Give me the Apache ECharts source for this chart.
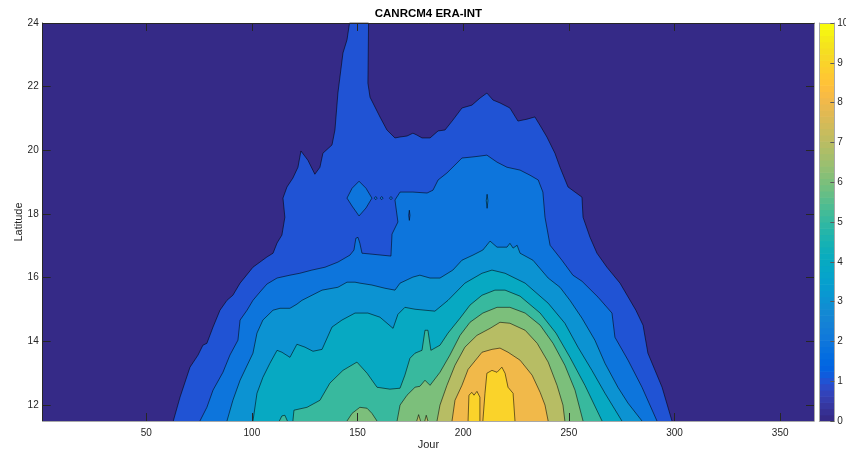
<!DOCTYPE html>
<html>
<head>
<meta charset="utf-8">
<script src="https://cdn.jsdelivr.net/npm/echarts@6/dist/echarts.min.js"></script>
<style>
  html, body { margin: 0; padding: 0; background: #ffffff; }
  #chart { width: 846px; height: 454px; }
</style>
</head>
<body>
<div id="chart"></div>
<script>
// Filled contour boundaries, as [day of year, latitude] pairs.
// Each level polygon encloses the area where the value is >= that level;
// open outlines start and end on the lower edge (latitude 11.5).
const level1 = [[62.8,11.5],[66.0,12.25],[70.7,13.19],[74.5,13.57],[76.8,13.88],[78.7,13.94],[81.6,14.45],[84.9,14.98],[88.2,15.29],[91.0,15.45],[94.4,15.83],[100.5,16.33],[107.1,16.65],[110.0,16.77],[111.9,17.09],[114.2,17.34],[115.6,17.90],[114.7,18.50],[116.6,18.85],[119.4,19.13],[121.8,19.47],[123.2,19.98],[126.5,19.69],[129.8,19.25],[132.2,19.47],[133.6,19.91],[137.9,20.17],[139.3,20.64],[140.7,21.80],[143.1,23.06],[145.0,23.47],[146.2,24],[155.2,24],[154.9,22.11],[155.9,21.67],[160.6,21.05],[163.9,20.64],[167.7,20.39],[170.1,20.42],[173.4,20.45],[176.2,20.54],[178.1,20.48],[180.5,20.39],[184.3,20.39],[188.1,20.61],[191.4,20.64],[195.1,20.95],[199.4,21.33],[204.1,21.42],[207.9,21.64],[211.2,21.80],[214.1,21.58],[217.4,21.49],[222.1,21.33],[225.9,20.92],[230.2,20.98],[233.9,21.05],[236.3,20.79],[239.6,20.42],[243.4,19.91],[245.8,19.47],[249.6,18.85],[256.2,18.53],[256.7,17.90],[260.0,17.27],[263.3,16.77],[268.0,16.33],[274.2,15.83],[281.7,14.98],[285.1,14.51],[287.4,13.63],[294.1,12.56],[298.8,11.5]];
const level1Hole = [[174.5,18.12],[174.8,17.96],[174.5,17.80],[174.2,17.96]];

const level2 = [[75.4,11.5],[78.7,11.93],[81.6,12.47],[86.3,13.03],[89.6,13.57],[93.4,14.04],[94.4,14.67],[97.7,14.98],[100.5,15.29],[103.8,15.55],[107.1,15.80],[111.9,15.99],[118.0,16.08],[122.7,16.14],[128.4,16.24],[134.6,16.33],[140.7,16.49],[146.4,16.71],[148.3,16.87],[149.2,17.24],[150.2,17.27],[151.1,17.08],[152.1,16.77],[156.8,16.74],[165.8,16.68],[166.3,17.37],[169.1,17.75],[167.7,18.44],[170.1,18.69],[176.2,18.69],[182.9,18.66],[185.7,18.75],[188.1,19.07],[192.3,19.29],[196.1,19.54],[199.4,19.76],[204.1,19.79],[207.9,19.82],[211.2,19.85],[216.0,19.63],[220.7,19.47],[226.9,19.38],[231.6,19.22],[235.5,19.07],[237.7,18.69],[238.7,17.90],[241.1,17.02],[246.7,16.55],[251.9,16.08],[256.2,15.89],[263.8,15.39],[270.4,14.89],[271.8,14.13],[278.0,13.41],[284.6,12.56],[291.7,11.5]];
const level2Island = [[150.7,19.03],[154.0,18.81],[156.8,18.50],[154.0,18.19],[150.7,17.94],[147.4,18.25],[145.0,18.50],[147.4,18.81]];
const level2DotA = [[157.9,18.50],[158.6,18.55],[159.3,18.50],[158.6,18.45]];
const level2DotB = [[160.7,18.50],[161.4,18.55],[162.1,18.50],[161.4,18.45]];
const level2DotC = [[165.1,18.50],[165.8,18.55],[166.5,18.50],[165.8,18.45]];

const level3 = [[88.2,11.5],[91.0,12.15],[94.4,12.78],[100.5,13.63],[102.4,14.26],[105.2,14.67],[110.0,14.98],[113.3,15.04],[118.0,15.04],[121.3,15.17],[123.7,15.29],[133.2,15.61],[140.7,15.70],[145.0,15.86],[148.8,15.86],[151.1,15.83],[156.8,15.77],[162.9,15.67],[167.7,15.61],[170.1,15.83],[176.2,16.02],[179.5,16.08],[184.3,15.99],[189.0,15.99],[195.1,16.24],[199.4,16.55],[204.6,16.71],[209.3,16.87],[212.7,17.15],[216.0,16.96],[220.7,16.96],[222.1,17.08],[223.6,16.93],[225.5,17.02],[226.9,16.77],[233.0,16.55],[240.2,15.99],[245.8,15.70],[250.5,15.29],[256.2,14.73],[262.3,14.04],[267.1,13.31],[273.2,12.56],[278.0,12.06],[284.6,11.5]];
const level3Island = [[211.3,18.62],[211.7,18.42],[211.3,18.18],[210.9,18.42]];

const level4 = [[100.5,11.5],[102.4,12.37],[105.2,12.87],[108.5,13.31],[111.9,13.72],[114.2,13.66],[118.0,13.50],[121.3,13.91],[125.1,13.82],[128.9,13.69],[133.2,13.75],[137.9,14.45],[142.6,14.67],[148.8,14.89],[154.9,14.89],[160.6,14.76],[166.8,14.41],[169.1,14.85],[172.4,15.07],[177.2,15.01],[186.6,14.95],[192.8,15.29],[200.8,15.83],[208.9,16.14],[213.6,16.24],[219.8,16.14],[229.3,15.83],[240.2,15.20],[248.1,14.57],[254.3,13.82],[260.9,13.09],[267.1,12.37],[275.1,11.5]];

const level5 = [[119.4,11.5],[119.9,11.84],[126.1,11.93],[132.2,12.15],[136.9,12.69],[143.1,13.09],[149.7,13.35],[154.5,13.00],[159.2,12.56],[165.3,12.50],[170.1,12.53],[172.4,12.94],[174.8,13.47],[177.2,13.63],[180.5,13.72],[181.9,14.35],[183.3,14.35],[184.7,13.72],[189.0,13.88],[192.8,14.26],[198.5,14.73],[203.2,15.14],[208.9,15.45],[215.0,15.61],[219.8,15.61],[226.9,15.42],[236.4,14.89],[243.9,14.26],[250.5,13.50],[257.6,12.62],[265.7,11.5]];
const level5Bump = [[113.0,11.5],[114.2,11.66],[115.6,11.68],[116.8,11.5]];

const level6 = [[168.7,11.5],[170.1,12.00],[173.4,12.31],[177.2,12.56],[179.5,12.59],[181.9,12.78],[184.3,12.62],[189.0,13.03],[193.7,13.57],[198.5,14.19],[203.2,14.60],[209.3,14.89],[216.0,15.07],[222.1,15.07],[229.3,14.89],[236.4,14.51],[242.5,13.94],[248.1,13.25],[252.9,12.47],[256.7,11.5]];
const level6Bump = [[145.0,11.5],[147.4,11.74],[151.1,11.93],[154.5,11.90],[156.8,11.74],[159.2,11.5]];

const level7 = [[187.6,11.5],[189.0,12.00],[192.3,12.62],[196.1,13.25],[200.8,13.82],[206.5,14.19],[212.7,14.41],[217.4,14.60],[222.1,14.57],[229.3,14.35],[235.0,13.94],[240.2,13.35],[244.4,12.62],[247.2,12.00],[248.1,11.5]];
const level7BumpA = [[178.0,11.5],[178.9,11.70],[179.8,11.5]];
const level7BumpB = [[181.8,11.5],[182.5,11.68],[183.3,11.5]];

const level8 = [[194.7,11.5],[196.1,12.15],[199.4,12.62],[202.3,13.12],[208.9,13.66],[213.6,13.75],[217.4,13.79],[221.2,13.66],[226.9,13.41],[232.6,12.94],[236.4,12.40],[238.7,12.00],[240.2,11.5]];

const level9 = [[209.3,11.5],[210.3,12.37],[211.2,13.00],[213.6,13.09],[216.0,13.03],[218.3,13.19],[219.8,13.00],[221.2,12.56],[223.6,12.37],[224.5,11.5]];
const level9Small = [[202.3,11.5],[202.7,12.31],[204.1,12.40],[205.1,12.31],[206.5,12.43],[207.9,12.25],[207.9,11.5]];

// Axis ticks
const dayTicks = [50, 100, 150, 200, 250, 300, 350];
const latTicks = [12, 14, 16, 18, 20, 22, 24];
const colorbarTicks = [0, 1, 2, 3, 4, 5, 6, 7, 8, 9, 10];

// parula, 64 entries
const parula = [
  [0.2081,0.1663,0.5292],[0.2116,0.1898,0.5777],[0.2123,0.2138,0.6270],[0.2081,0.2386,0.6771],
  [0.1959,0.2645,0.7279],[0.1707,0.2919,0.7792],[0.1253,0.3242,0.8303],[0.0591,0.3598,0.8683],
  [0.0117,0.3875,0.8820],[0.0060,0.4086,0.8828],[0.0165,0.4266,0.8786],[0.0329,0.4430,0.8720],
  [0.0498,0.4586,0.8641],[0.0629,0.4737,0.8554],[0.0723,0.4887,0.8467],[0.0779,0.5040,0.8384],
  [0.0793,0.5200,0.8312],[0.0749,0.5375,0.8263],[0.0641,0.5570,0.8240],[0.0488,0.5772,0.8228],
  [0.0343,0.5966,0.8199],[0.0265,0.6137,0.8135],[0.0239,0.6287,0.8038],[0.0231,0.6418,0.7913],
  [0.0228,0.6535,0.7768],[0.0267,0.6642,0.7607],[0.0384,0.6743,0.7436],[0.0590,0.6838,0.7254],
  [0.0843,0.6928,0.7062],[0.1133,0.7015,0.6859],[0.1453,0.7098,0.6646],[0.1801,0.7177,0.6424],
  [0.2178,0.7250,0.6193],[0.2586,0.7317,0.5954],[0.3022,0.7376,0.5712],[0.3482,0.7424,0.5473],
  [0.3953,0.7459,0.5244],[0.4420,0.7481,0.5033],[0.4871,0.7491,0.4840],[0.5300,0.7491,0.4661],
  [0.5709,0.7485,0.4494],[0.6099,0.7473,0.4337],[0.6473,0.7456,0.4188],[0.6834,0.7435,0.4044],
  [0.7184,0.7411,0.3905],[0.7525,0.7384,0.3768],[0.7858,0.7356,0.3633],[0.8185,0.7327,0.3498],
  [0.8507,0.7299,0.3360],[0.8824,0.7274,0.3217],[0.9139,0.7258,0.3063],[0.9450,0.7261,0.2886],
  [0.9739,0.7314,0.2666],[0.9938,0.7455,0.2403],[0.9990,0.7653,0.2164],[0.9955,0.7861,0.1967],
  [0.9880,0.8066,0.1794],[0.9789,0.8271,0.1633],[0.9697,0.8481,0.1475],[0.9626,0.8705,0.1309],
  [0.9589,0.8949,0.1132],[0.9598,0.9218,0.0948],[0.9661,0.9514,0.0755],[0.9763,0.9831,0.0538]
];
const rgb = c => 'rgb(' + c.map(v => Math.round(v * 255)).join(',') + ')';
const CMIN = 0, CMAX = 10;
const levelColor = v => rgb(parula[Math.min(63, Math.floor((v - CMIN) / (CMAX - CMIN) * 64))]);

const FONT = '"Liberation Sans", Arial, Helvetica, sans-serif';
const INK = '#262626';
const EDGE = 'rgba(0,0,0,0.78)';

// Paint order: lower levels first, then higher ones on top.
const layers = [
  { level: 1, rings: [{ pts: level1 }] },
  { level: 2, rings: [{ pts: level2 }, { pts: level2Island, closed: true },
                      { pts: level2DotA, closed: true }, { pts: level2DotB, closed: true },
                      { pts: level2DotC, closed: true }] },
  { level: 1, rings: [{ pts: level1Hole, closed: true }] },
  { level: 3, rings: [{ pts: level3 }, { pts: level3Island, closed: true }] },
  { level: 4, rings: [{ pts: level4 }] },
  { level: 5, rings: [{ pts: level5 }, { pts: level5Bump }] },
  { level: 6, rings: [{ pts: level6 }, { pts: level6Bump }] },
  { level: 7, rings: [{ pts: level7 }, { pts: level7BumpA }, { pts: level7BumpB }] },
  { level: 8, rings: [{ pts: level8 }] },
  { level: 9, rings: [{ pts: level9 }, { pts: level9Small }] }
];

function contourSeries(layer, order) {
  const data = [];
  layer.rings.forEach((r, ri) => {
    r.pts.forEach(p => data.push([p[0], p[1], ri, r.closed ? 1 : 0]));
  });
  const fill = levelColor(layer.level);
  return {
    type: 'custom',
    xAxisIndex: 0,
    yAxisIndex: 0,
    z: 3 + order,
    silent: true,
    animation: false,
    encode: { x: 0, y: 1 },
    data: data,
    renderItem: function (params, api) {
      if (params.dataIndex !== 0) return null;
      const n = params.dataInsideLength;
      const rings = [];
      for (let i = 0; i < n; i++) {
        const ri = api.value(2, i);
        if (!rings[ri]) rings[ri] = { closed: api.value(3, i) === 1, pts: [] };
        rings[ri].pts.push(api.coord([api.value(0, i), api.value(1, i)]));
      }
      const children = [];
      rings.forEach(r => {
        children.push({ type: 'polygon', shape: { points: r.pts },
          style: { fill: fill, stroke: null } });
        children.push({ type: 'polyline',
          shape: { points: r.closed ? r.pts.concat([r.pts[0]]) : r.pts },
          style: { fill: null, stroke: EDGE, lineWidth: 0.7 } });
      });
      return { type: 'group', children: children };
    }
  };
}

const colorbarSteps = parula.map((c, i) => [i]);

const chart = echarts.init(document.getElementById('chart'), null, { renderer: 'canvas' });

const option = {
  backgroundColor: '#ffffff',
  animation: false,
  graphic: [{
    type: 'text', x: 428.4, y: 14, z: 20,
    style: { text: 'CANRCM4 ERA-INT', fill: '#000', font: 'bold 11.5px ' + FONT,
             textAlign: 'center', textVerticalAlign: 'middle' }
  }],
  grid: [
    { left: 42.7, top: 23, width: 771.3, height: 398, show: true, outerBoundsMode: 'none',
      containLabel: false, backgroundColor: levelColor(0), borderWidth: 0 },
    { left: 819.3, top: 23, width: 15, height: 398, show: false, outerBoundsMode: 'none',
      containLabel: false }
  ],
  xAxis: [
    { gridIndex: 0, type: 'value', min: 1, max: 366, position: 'bottom', z: 10,
      name: 'Jour', nameLocation: 'middle', nameGap: 18, nameMoveOverlap: false,
      nameTextStyle: { color: INK, fontSize: 11, fontFamily: FONT },
      axisLine: { show: true, onZero: false, lineStyle: { color: '#a8a8a8', width: 1 } },
      axisTick: { show: true, inside: true, length: 8, customValues: dayTicks, lineStyle: { color: INK } },
      axisLabel: { show: true, customValues: dayTicks, color: INK, fontSize: 10, fontFamily: FONT, margin: 7 },
      splitLine: { show: false } },
    { gridIndex: 0, type: 'value', min: 1, max: 366, position: 'top', z: 10,
      axisLine: { show: true, onZero: false, lineStyle: { color: INK, width: 1 } },
      axisTick: { show: true, inside: true, length: 8, customValues: dayTicks, lineStyle: { color: INK } },
      axisLabel: { show: false }, splitLine: { show: false } },
    { gridIndex: 1, type: 'value', min: 0, max: 1, position: 'bottom', z: 10,
      axisLine: { show: true, onZero: false, lineStyle: { color: '#a8a8a8' } },
      axisTick: { show: false }, axisLabel: { show: false }, splitLine: { show: false } },
    { gridIndex: 1, type: 'value', min: 0, max: 1, position: 'top', z: 10,
      axisLine: { show: true, onZero: false, lineStyle: { color: '#a8a8a8' } },
      axisTick: { show: false }, axisLabel: { show: false }, splitLine: { show: false } }
  ],
  yAxis: [
    { gridIndex: 0, type: 'value', min: 11.5, max: 24, position: 'left', z: 10,
      name: 'Latitude', nameLocation: 'middle', nameGap: 18, nameRotate: 90, nameMoveOverlap: false,
      nameTextStyle: { color: INK, fontSize: 11, fontFamily: FONT },
      axisLine: { show: true, onZero: false, lineStyle: { color: INK, width: 1 } },
      axisTick: { show: true, inside: true, length: 8, customValues: latTicks, lineStyle: { color: INK } },
      axisLabel: { show: true, customValues: latTicks, color: INK, fontSize: 10, fontFamily: FONT, margin: 4 },
      splitLine: { show: false } },
    { gridIndex: 0, type: 'value', min: 11.5, max: 24, position: 'right', z: 10,
      axisLine: { show: true, onZero: false, lineStyle: { color: '#a8a8a8', width: 1 } },
      axisTick: { show: true, inside: true, length: 8, customValues: latTicks, lineStyle: { color: INK } },
      axisLabel: { show: false }, splitLine: { show: false } },
    { gridIndex: 1, type: 'value', min: 0, max: 10, interval: 1, position: 'right', z: 10,
      axisLine: { show: true, onZero: false, lineStyle: { color: '#a8a8a8' } },
      axisTick: { show: true, inside: true, length: 4, lineStyle: { color: '#595959' } },
      axisLabel: { show: true, color: INK, fontSize: 10, fontFamily: FONT, margin: 3,
                   customValues: colorbarTicks },
      splitLine: { show: false } },
    { gridIndex: 1, type: 'value', min: 0, max: 10, position: 'left', z: 10,
      axisLine: { show: true, onZero: false, lineStyle: { color: '#a8a8a8' } },
      axisTick: { show: false }, axisLabel: { show: false }, splitLine: { show: false } }
  ],
  series: layers.map((l, i) => contourSeries(l, i)).concat([{
    type: 'custom',
    xAxisIndex: 2,
    yAxisIndex: 2,
    silent: true,
    animation: false,
    encode: { y: 0 },
    data: colorbarSteps,
    renderItem: function (params, api) {
      const i = api.value(0);
      const step = (CMAX - CMIN) / parula.length;
      const a = api.coord([0, CMIN + i * step]);
      const b = api.coord([1, CMIN + (i + 1) * step]);
      return { type: 'rect',
        shape: { x: a[0], y: b[1], width: b[0] - a[0], height: a[1] - b[1] + 0.6 },
        style: { fill: rgb(parula[i]) } };
    }
  }])
};

chart.setOption(option);
</script>
</body>
</html>
